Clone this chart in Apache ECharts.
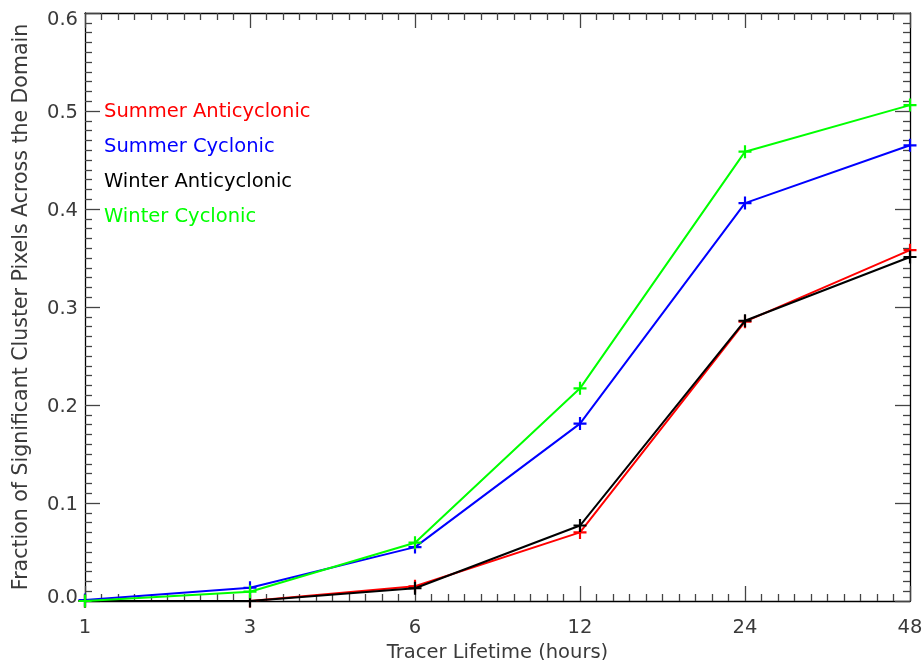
<!DOCTYPE html>
<html>
<head>
<meta charset="utf-8">
<script src="https://cdn.jsdelivr.net/npm/echarts@6/dist/echarts.min.js"></script>
<style>html,body{margin:0;padding:0;background:#fff;}#c{width:924px;height:660px;}</style>
</head>
<body>
<div id="c"></div>
<script>
var tickLabels = ['1', '3', '6', '12', '24', '48'];
var seriesNames = ['Summer Anticyclonic', 'Summer Cyclonic', 'Winter Anticyclonic', 'Winter Cyclonic'];
var summerAnticyclonic = [0.000, 0.000, 0.015, 0.070, 0.285, 0.358];
var summerCyclonic     = [0.001, 0.0135, 0.055, 0.181, 0.406, 0.465];
var winterAnticyclonic = [0.000, 0.000, 0.013, 0.077, 0.286, 0.351];
var winterCyclonic     = [0.000, 0.0095, 0.0595, 0.217, 0.4585, 0.506];
var colors = ['#ff0000', '#0000ff', '#000000', '#00ff00'];
var allValues = [summerAnticyclonic, summerCyclonic, winterAnticyclonic, winterCyclonic];

var FONT = 'DejaVu Sans';
var TXT = '#3a3a3a';
var plus = 'path://M-1,-6 L1,-6 L1,-1 L6,-1 L6,1 L1,1 L1,6 L-1,6 L-1,1 L-6,1 L-6,-1 L-1,-1 Z';

function toPairs(arr) { return arr.map(function (v, i) { return [i, v]; }); }

var axisCommon = {
  axisLine: { show: true, onZero: false, lineStyle: { color: '#000', width: 1.3 } },
  axisTick: { show: true, inside: true, length: 15, lineStyle: { color: '#444', width: 1.3 } },
  minorTick: { show: true, splitNumber: 10, length: 7, lineStyle: { color: '#444', width: 1.3 } },
  splitLine: { show: false }
};

var chart = echarts.init(document.getElementById('c'), null, { renderer: 'canvas' });
var option = {
  backgroundColor: '#fff',
  animation: false,
  textStyle: { fontFamily: FONT },
  grid: { left: 85, right: 14, top: 13, bottom: 59, containLabel: false, outerBoundsMode: 'none' },
  legend: {
    orient: 'vertical',
    left: 94,
    top: 97,
    itemWidth: 0,
    itemHeight: 0,
    itemGap: 15,
    selectedMode: false,
    textStyle: { fontFamily: FONT, fontSize: 19.5, lineHeight: 20 },
    data: seriesNames.map(function (n, i) { return { name: n, icon: 'none', textStyle: { color: colors[i] } }; })
  },
  xAxis: [
    Object.assign({}, axisCommon, {
      type: 'value', position: 'bottom', min: 0, max: 5, interval: 1,
      name: 'Tracer Lifetime (hours)', nameLocation: 'middle', nameGap: 40,
      nameTextStyle: { fontFamily: FONT, fontSize: 19.5, color: TXT },
      axisLabel: { margin: 17, fontFamily: FONT, fontSize: 19.5, color: TXT,
        formatter: function (v) { return tickLabels[Math.round(v)]; } }
    }),
    Object.assign({}, axisCommon, {
      type: 'value', position: 'top', min: 0, max: 5, interval: 1,
      axisLabel: { show: false }
    })
  ],
  yAxis: [
    Object.assign({}, axisCommon, {
      type: 'value', position: 'left', min: 0, max: 0.6, interval: 0.1,
      name: 'Fraction of Significant Cluster Pixels Across the Domain', nameLocation: 'middle', nameGap: 53,
      nameTextStyle: { fontFamily: FONT, fontSize: 20.5, color: TXT },
      axisLabel: { margin: 7, fontFamily: FONT, fontSize: 19.5, color: TXT, padding: [3, 0, 0, 0],
        formatter: function (v) {
          var s = v.toFixed(1);
          if (Math.abs(v) < 1e-9) return '{lo|' + s + '}';
          if (Math.abs(v - 0.6) < 1e-9) return '{hi|' + s + '}';
          return s;
        },
        rich: {
          lo: { fontFamily: FONT, fontSize: 19.5, color: TXT, padding: [0, 0, 10, 0] },
          hi: { fontFamily: FONT, fontSize: 19.5, color: TXT, padding: [10, 0, 0, 0] }
        }
      }
    }),
    Object.assign({}, axisCommon, {
      type: 'value', position: 'right', min: 0, max: 0.6, interval: 0.1,
      axisLabel: { show: false }
    })
  ],
  series: allValues.map(function (vals, i) {
    return {
      name: seriesNames[i],
      type: 'line',
      data: toPairs(vals),
      xAxisIndex: 0,
      yAxisIndex: 0,
      symbol: plus,
      symbolSize: 13,
      showSymbol: true,
      clip: true,
      color: colors[i],
      lineStyle: { color: colors[i], width: 2 },
      itemStyle: { color: colors[i], borderWidth: 0 },
      z: 2 + i
    };
  })
};
chart.setOption(option);
</script>
</body>
</html>
